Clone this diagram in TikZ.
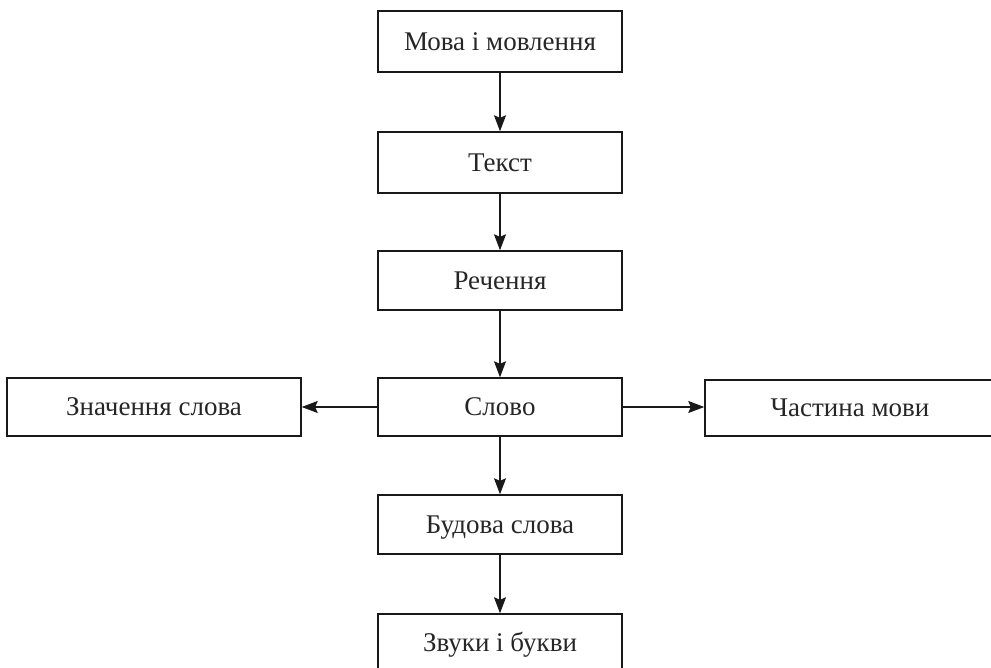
\documentclass[tikz,border=0pt]{standalone}
\usepackage{fontspec}
\setmainfont{Liberation Serif}
\usetikzlibrary{arrows.meta}
\begin{document}
\begin{tikzpicture}[x=1pt,y=-1pt,
  box/.style={draw=black!90, line width=1.4pt, inner sep=0pt, minimum width=244pt,
    font=\fontsize{27}{32}\selectfont, text height=17.9pt, text depth=0pt, text=black!85},
  arr/.style={line width=1.4pt, draw=black!90, -{Stealth[length=16pt,width=12pt,inset=2.5pt]}}]
\useasboundingbox (0,0) rectangle (991,668);
\node[box, minimum height=61pt] (m1) at (500,41.5) {Мова і мовлення};
\node[box, minimum height=61pt] (m2) at (500,162.5) {Текст};
\node[box, minimum height=59pt] (m3) at (500,280.5) {Речення};
\node[box, minimum height=58pt] (m4) at (500,407) {Слово};
\node[box, minimum height=59pt] (m5) at (500,524.5) {Будова слова};
\node[box, minimum height=58pt] (m6) at (500,643) {Звуки і букви};
\node[box, minimum width=294pt, minimum height=58pt] (L) at (154,407) {Значення слова};
\node[box, minimum width=290pt, minimum height=56pt] (R) at (850,408) {Частина мови};
\draw[arr] (m1) -- (m2);
\draw[arr] (m2) -- (m3);
\draw[arr] (m3) -- (m4);
\draw[arr] (m4) -- (m5);
\draw[arr] (m5) -- (m6);
\draw[arr] (m4.west) -- (L.east);
\draw[arr] (m4.east) -- (m4.east -| R.west);
\end{tikzpicture}
\end{document}
